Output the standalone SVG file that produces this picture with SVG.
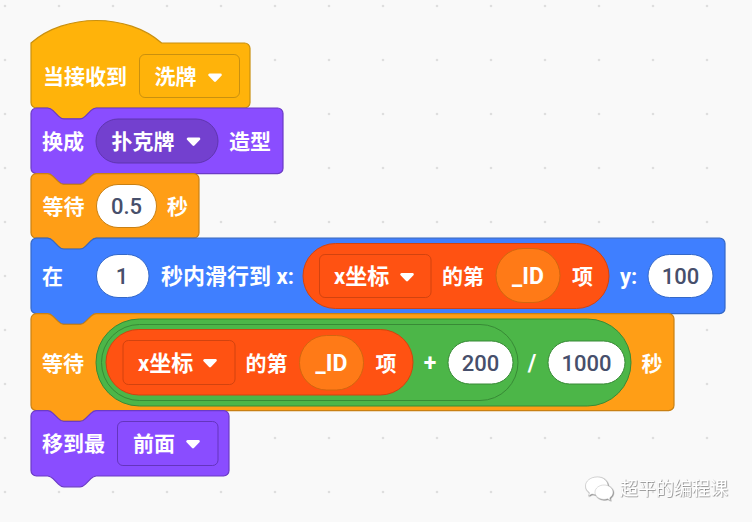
<svg xmlns="http://www.w3.org/2000/svg" width="752" height="522" viewBox="0 0 752 522">
<style>
text{font-family:"Noto Sans CJK SC","Noto Sans",sans-serif;font-size:21px;font-weight:700;fill:#fff}
.n{font-family:Roboto,"Liberation Sans",sans-serif;font-weight:500;fill:#474f6b;text-anchor:middle;font-size:22px}
.l{font-family:Roboto,"Noto Sans CJK SC",sans-serif;font-size:22px}
.lm{font-family:Roboto,sans-serif;text-anchor:middle;font-size:23px}
.b{stroke-width:1.2}
.ev{fill:#ffb30a;stroke:#c9900f}
.lk{fill:#8a4dff;stroke:#6b3bc6}
.ct{fill:#ff9e16;stroke:#c98013}
.mo{fill:#3f7fff;stroke:#3468c8}
.li{fill:#ff5212;stroke:#d2430f}
.op{fill:#4cb648;stroke:#388a36}
.idv{fill:#ff7a17;stroke:#d2660f}
.in{fill:#fff}
.wm{font-size:18px;font-weight:400}
</style>
<defs>
<pattern id="grid" x="5" y="6" width="54" height="54" patternUnits="userSpaceOnUse"><circle cx="0" cy="0" r="1.3" fill="#dedede"/><circle cx="54" cy="0" r="1.3" fill="#dedede"/><circle cx="0" cy="54" r="1.3" fill="#dedede"/><circle cx="54" cy="54" r="1.3" fill="#dedede"/></pattern>
<path id="arrow" d="M-5.500-2.600H5.500L0 3z" fill="#fff" stroke="#fff" stroke-width="2.600" stroke-linejoin="round"/>
<filter id="sh" x="-10%" y="-20%" width="120%" height="140%"><feDropShadow dx="0.6" dy="0.6" stdDeviation="0.4" flood-color="#555" flood-opacity="0.9"/></filter>
</defs>
<rect width="752" height="522" fill="#f9f9f9"/>
<rect width="752" height="522" fill="url(#grid)"/>
<g id="connectors"/>

<g id="block-receive">
<path class="ev b" d="M31 43c34-30 96.600-30 130.600 0H244.600a5.400 5.400 0 0 1 5.400 5.400V102.600a5.400 5.400 0 0 1-5.400 5.400H96.300c-2.700 0-4.100 1.400-5.400 2.700l-5.400 5.400c-1.400 1.400-2.700 2.700-5.400 2.700H63.800c-2.700 0-4.100-1.400-5.400-2.700l-5.400-5.400c-1.400-1.400-2.700-2.700-5.400-2.700H36.400a5.400 5.400 0 0 1-5.400-5.400z"/>
<rect class="ev" x="139.500" y="54.500" width="100" height="43" rx="5.400"/>
<text x="43" y="84">当接收到</text>
<text x="154.500" y="84">洗牌</text>
<use href="#arrow" x="215" y="77.500"/>
</g>

<g id="block-costume">
<path class="lk b" d="M31 113.400a5.400 5.400 0 0 1 5.400-5.400H47.600c2.700 0 4.100 1.400 5.400 2.700l5.400 5.400c1.400 1.400 2.700 2.700 5.400 2.700H80.100c2.700 0 4.100-1.400 5.400-2.700l5.400-5.400c1.400-1.400 2.700-2.700 5.400-2.700H277.600a5.400 5.400 0 0 1 5.400 5.400V168.200a5.400 5.400 0 0 1-5.400 5.400H96.300c-2.700 0-4.100 1.400-5.400 2.700l-5.400 5.400c-1.400 1.400-2.700 2.700-5.400 2.700H63.800c-2.700 0-4.100-1.400-5.400-2.700l-5.400-5.400c-1.400-1.400-2.700-2.700-5.400-2.700H36.400a5.400 5.400 0 0 1-5.400-5.400z"/>
<rect x="96" y="119" width="122" height="44" rx="22" fill="#7340cf" stroke="#5f35af"/>
<text x="42" y="149">换成</text>
<text x="111.500" y="149">扑克牌</text>
<use href="#arrow" x="193.500" y="141.500"/>
<text x="229" y="149">造型</text>
</g>

<g id="block-wait-05">
<path class="ct b" d="M31 179a5.400 5.400 0 0 1 5.400-5.400H47.600c2.700 0 4.100 1.400 5.400 2.700l5.400 5.400c1.400 1.400 2.700 2.700 5.400 2.700H80.100c2.700 0 4.100-1.400 5.400-2.700l5.400-5.400c1.400-1.400 2.700-2.700 5.400-2.700H193.600a5.400 5.400 0 0 1 5.400 5.400V232.800a5.400 5.400 0 0 1-5.400 5.400H96.300c-2.700 0-4.100 1.400-5.400 2.700l-5.400 5.400c-1.400 1.400-2.700 2.700-5.400 2.700H63.800c-2.700 0-4.100-1.400-5.400-2.700l-5.400-5.400c-1.400-1.400-2.700-2.700-5.400-2.700H36.400a5.400 5.400 0 0 1-5.400-5.400z"/>
<rect class="in" x="96.500" y="184.500" width="60" height="43" rx="21.500" stroke="#c98013"/>
<text x="42.500" y="214">等待</text>
<text class="n" x="126.500" y="214">0.5</text>
<text x="167" y="214">秒</text>
</g>

<g id="block-glide">
<path class="mo b" d="M31 243.600a5.400 5.400 0 0 1 5.400-5.400H47.600c2.700 0 4.100 1.400 5.400 2.700l5.400 5.400c1.400 1.400 2.700 2.700 5.400 2.700H80.100c2.700 0 4.100-1.400 5.400-2.700l5.400-5.400c1.400-1.400 2.700-2.700 5.400-2.700H719.600a5.400 5.400 0 0 1 5.400 5.400V308.200a5.400 5.400 0 0 1-5.400 5.400H96.300c-2.700 0-4.100 1.400-5.400 2.700l-5.400 5.400c-1.400 1.400-2.700 2.700-5.400 2.700H63.800c-2.700 0-4.100-1.400-5.400-2.700l-5.400-5.400c-1.400-1.400-2.700-2.700-5.400-2.700H36.400a5.400 5.400 0 0 1-5.400-5.400z"/>
<rect class="in" x="96.500" y="254.500" width="52.500" height="43" rx="21.500" stroke="#3468c8"/>
<rect class="li" x="303" y="243.500" width="306" height="65" rx="32.500"/>
<rect class="li" x="319.500" y="254.500" width="111.500" height="43" rx="5.400"/>
<rect class="idv" x="496" y="248.500" width="64" height="54" rx="27"/>
<rect class="in" x="648" y="254.500" width="65" height="43" rx="21.500" stroke="#3468c8"/>
<text x="42" y="284">在</text>
<text class="n" x="122" y="284">1</text>
<text class="l" x="161" y="284">秒内滑行到 x:</text>
<text class="l" x="334" y="284">x坐标</text>
<use href="#arrow" x="407" y="277"/>
<text x="442" y="284">的第</text>
<text class="lm" x="528" y="284">_ID</text>
<text x="572" y="284">项</text>
<text class="l" x="620" y="284">y:</text>
<text class="n" x="680.500" y="284">100</text>
</g>

<g id="block-wait-expr">
<path class="ct b" d="M31 319a5.400 5.400 0 0 1 5.400-5.400H47.600c2.700 0 4.100 1.400 5.400 2.700l5.400 5.400c1.400 1.400 2.700 2.700 5.400 2.700H80.100c2.700 0 4.100-1.400 5.400-2.700l5.400-5.400c1.400-1.400 2.700-2.700 5.400-2.700H668.600a5.400 5.400 0 0 1 5.400 5.400V405.200a5.400 5.400 0 0 1-5.400 5.400H96.300c-2.700 0-4.100 1.400-5.400 2.700l-5.400 5.400c-1.400 1.400-2.700 2.700-5.400 2.700H63.800c-2.700 0-4.100-1.400-5.400-2.700l-5.400-5.400c-1.400-1.400-2.700-2.700-5.400-2.700H36.400a5.400 5.400 0 0 1-5.400-5.400z"/>
<rect class="op" x="96" y="319" width="535" height="87" rx="43.500"/>
<rect class="op" x="101.500" y="324.500" width="416.500" height="76" rx="38"/>
<rect class="li" x="106" y="329.500" width="307" height="65.500" rx="32.700"/>
<rect class="li" x="123" y="340.500" width="112" height="44" rx="5.400"/>
<rect class="idv" x="299.500" y="335.500" width="64" height="54.500" rx="27"/>
<rect class="in" x="448" y="341" width="65" height="43" rx="21.500" stroke="#388a36"/>
<rect class="in" x="548" y="341" width="77" height="43" rx="21.500" stroke="#388a36"/>
<text x="42" y="371">等待</text>
<text class="l" x="138" y="371">x坐标</text>
<use href="#arrow" x="210" y="363"/>
<text x="245.500" y="371">的第</text>
<text class="lm" x="331.500" y="371">_ID</text>
<text x="375.500" y="371">项</text>
<text class="lm" x="430" y="371">+</text>
<text class="n" x="480.500" y="371">200</text>
<text class="lm" x="532" y="371">/</text>
<text class="n" x="586.500" y="371">1000</text>
<text x="641.500" y="371">秒</text>
</g>

<g id="block-front">
<path class="lk b" d="M31 416a5.400 5.400 0 0 1 5.400-5.400H47.600c2.700 0 4.100 1.400 5.400 2.700l5.400 5.400c1.400 1.400 2.700 2.700 5.400 2.700H80.100c2.700 0 4.100-1.400 5.400-2.700l5.400-5.400c1.400-1.400 2.700-2.700 5.400-2.700H223.600a5.400 5.400 0 0 1 5.400 5.400V470.600a5.400 5.400 0 0 1-5.400 5.400H96.300c-2.700 0-4.100 1.400-5.400 2.700l-5.400 5.400c-1.400 1.400-2.700 2.700-5.400 2.700H63.800c-2.700 0-4.100-1.400-5.400-2.700l-5.400-5.400c-1.400-1.400-2.700-2.700-5.400-2.700H36.400a5.400 5.400 0 0 1-5.400-5.400z"/>
<rect x="117.500" y="421.500" width="100.500" height="44" rx="5.400" fill="#8a4dff" stroke="#6535bd"/>
<text x="42" y="451">移到最</text>
<text x="133" y="451">前面</text>
<use href="#arrow" x="193" y="444"/>
</g>

<g id="watermark">
<g filter="url(#sh)" fill="#fff" stroke="#aaa" stroke-width="0.4">
<path d="M597 477c-6.500 0-11.500 4-11.500 9 0 2.800 1.500 5 4 6.800l-1 3 3.500-1.800c1.500.4 3 .7 5 .7 6.500 0 11-4 11-8.700s-4.500-9-10-9z"/>
<path d="M604 485c-5 0-9 3.300-9 7.200s4 7.200 9 7.200c1.300 0 2.500-.2 3.600-.6l2.900 1.600-.8-2.500c2-1.300 3.300-3.400 3.300-5.700 0-3.900-4-7.200-9-7.200z"/>
</g>
<text class="wm" x="620" y="495" filter="url(#sh)">超平的编程课</text>
</g>
</svg>
